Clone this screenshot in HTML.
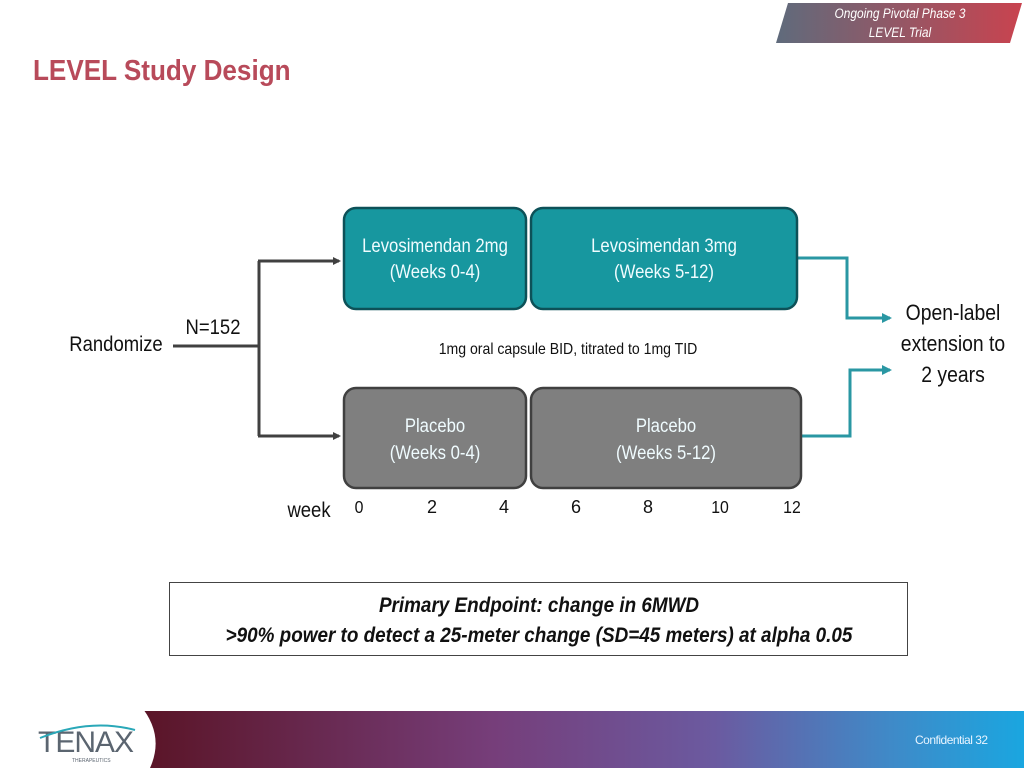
<!DOCTYPE html>
<html><head><meta charset="utf-8"><style>
html,body{margin:0;padding:0;background:#fff;}
body{width:1024px;height:768px;overflow:hidden;position:relative;}
</style></head><body>
<svg width="1024" height="768" viewBox="0 0 1024 768" xmlns="http://www.w3.org/2000/svg" style="position:absolute;left:0;top:0">
<defs>
<linearGradient id="tag" x1="0" x2="1"><stop offset="0" stop-color="#5f6b7c"/><stop offset="1" stop-color="#c9434f"/></linearGradient>
<linearGradient id="band" x1="0" x2="1"><stop offset="0" stop-color="#5a1426"/><stop offset="0.4" stop-color="#763e7a"/><stop offset="0.65" stop-color="#6b5aa0"/><stop offset="0.85" stop-color="#3f8ac8"/><stop offset="1" stop-color="#1aa6e0"/></linearGradient>
<marker id="ad" markerWidth="8" markerHeight="8" refX="6" refY="4" orient="auto" markerUnits="userSpaceOnUse"><path d="M0,0 L8,4 L0,8 z" fill="#404040"/></marker>
<marker id="at" markerWidth="10" markerHeight="10" refX="8" refY="5" orient="auto" markerUnits="userSpaceOnUse"><path d="M0,0 L10,5 L0,10 z" fill="#2a97a3"/></marker>
</defs>
<polygon points="788,3 1022,3 1010,43 776,43" fill="url(#tag)"/>
<g font-family="Liberation Sans, sans-serif" font-style="italic" fill="#fff" font-size="14" text-anchor="middle">
<text x="900" y="18" transform="translate(900 0) scale(0.85 1) translate(-900 0)">Ongoing  Pivotal Phase 3</text>
<text x="900" y="37" transform="translate(900 0) scale(0.85 1) translate(-900 0)">LEVEL Trial</text>
</g>
<text x="33" y="80" font-family="Liberation Sans, sans-serif" font-weight="bold" font-size="29" fill="#b84a5a" transform="translate(33 0) scale(0.9 1) translate(-33 0)">LEVEL Study Design</text>

<g stroke="#404040" stroke-width="3" fill="none">
<line x1="173" y1="346" x2="259" y2="346"/>
<line x1="259" y1="261" x2="259" y2="436"/>
<line x1="258" y1="261" x2="339" y2="261" marker-end="url(#ad)"/>
<line x1="258" y1="436" x2="339" y2="436" marker-end="url(#ad)"/>
</g>
<g stroke="#2a97a3" stroke-width="3" fill="none">
<polyline points="798,258 847,258 847,318 890,318" marker-end="url(#at)"/>
<polyline points="802,436 850,436 850,370 890,370" marker-end="url(#at)"/>
</g>

<rect x="344" y="208" width="182" height="101" rx="12" fill="#17979f" stroke="#0d5158" stroke-width="2.5"/>
<rect x="531" y="208" width="266" height="101" rx="12" fill="#17979f" stroke="#0d5158" stroke-width="2.5"/>
<rect x="344" y="388" width="182" height="100" rx="12" fill="#7f7f7f" stroke="#404040" stroke-width="2.5"/>
<rect x="531" y="388" width="270" height="100" rx="12" fill="#7f7f7f" stroke="#404040" stroke-width="2.5"/>

<g font-family="Liberation Sans, sans-serif" font-size="19" text-anchor="middle" fill="#f0fcff">
<g transform="translate(435 0) scale(0.88 1)"><text x="0" y="252">Levosimendan 2mg</text><text x="0" y="278">(Weeks 0-4)</text></g>
<g transform="translate(664 0) scale(0.88 1)"><text x="0" y="252">Levosimendan 3mg</text><text x="0" y="278">(Weeks 5-12)</text></g>
<g transform="translate(435 0) scale(0.88 1)"><text x="0" y="432">Placebo</text><text x="0" y="459">(Weeks 0-4)</text></g>
<g transform="translate(666 0) scale(0.88 1)"><text x="0" y="432">Placebo</text><text x="0" y="459">(Weeks 5-12)</text></g>
</g>
<g font-family="Liberation Sans, sans-serif" fill="#111" text-anchor="middle">
<g transform="translate(116 0) scale(0.88 1)"><text x="0" y="351" font-size="21">Randomize</text></g>
<g transform="translate(213 0) scale(0.88 1)"><text x="0" y="334" font-size="21">N=152</text></g>
<g transform="translate(568 0) scale(0.88 1)"><text x="0" y="354" font-size="16">1mg oral capsule BID, titrated to 1mg TID</text></g>
<g transform="translate(953 0) scale(0.88 1)" font-size="22"><text x="0" y="320">Open-label</text><text x="0" y="351">extension to</text><text x="0" y="382">2 years</text></g>
<g transform="translate(309 0) scale(0.88 1)"><text x="0" y="517" font-size="21">week</text></g>
<g font-size="18">
<text x="359" y="513" transform="translate(359 0) scale(0.88 1) translate(-359 0)">0</text>
<text x="432" y="513">2</text><text x="504" y="513">4</text><text x="576" y="513">6</text><text x="648" y="513">8</text>
<text x="720" y="513" transform="translate(720 0) scale(0.88 1) translate(-720 0)">10</text>
<text x="792" y="513" transform="translate(792 0) scale(0.88 1) translate(-792 0)">12</text>
</g>
</g>

<rect x="169.5" y="582.5" width="738" height="73" fill="#fff" stroke="#444" stroke-width="1"/>
<g font-family="Liberation Sans, sans-serif" font-weight="bold" font-style="italic" font-size="21" fill="#111" text-anchor="middle">
<g transform="translate(539 0) scale(0.9 1)"><text x="0" y="612">Primary Endpoint: change in 6MWD</text><text x="0" y="642">&gt;90% power to detect a 25-meter change (SD=45 meters) at alpha 0.05</text></g>
</g>

<rect x="140" y="711" width="884" height="57" fill="url(#band)"/>
<path d="M0,705 L140,705 Q165,735 150,768 L0,768 Z" fill="#fff"/>
<text x="38" y="752" font-family="Liberation Sans, sans-serif" font-size="30" fill="#5b6570" letter-spacing="-1">TENAX</text>
<path d="M40,738 Q90,718 135,730" stroke="#2aa8b8" stroke-width="2" fill="none"/>
<text x="72" y="762" font-family="Liberation Sans, sans-serif" font-size="5" fill="#5b6570">THERAPEUTICS</text>
<text x="915" y="744" font-family="Liberation Sans, sans-serif" font-size="12" fill="#e8f4ff" letter-spacing="-0.5">Confidential   32</text>
</svg>
</body></html>
